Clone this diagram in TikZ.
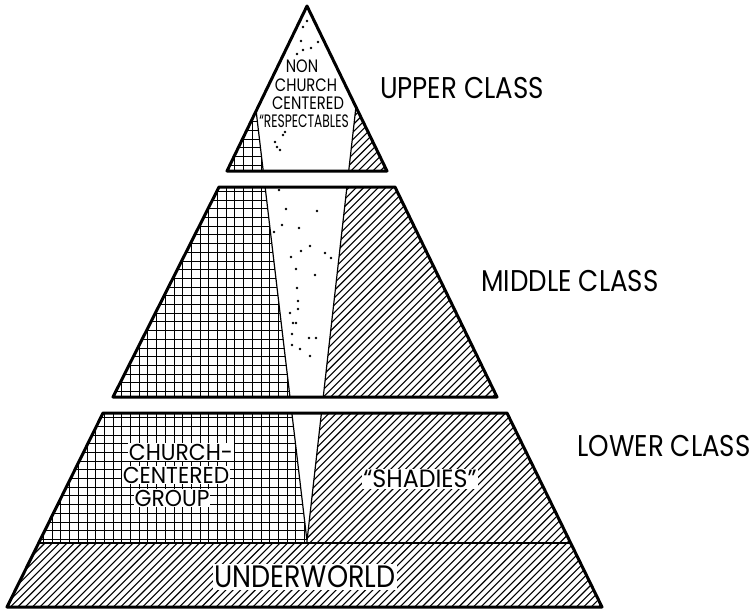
\documentclass[tikz,border=0pt]{standalone}
\usepackage{fontspec}
\newfontfamily\lbl[FakeStretch=0.87]{Poppins}
\newfontfamily\lblw[FakeStretch=0.95]{Poppins}
\newfontfamily\lblc[FakeStretch=0.82]{Poppins}
\newfontfamily\lblcc[FakeStretch=0.68]{Poppins}
\tikzset{
  every node/.style={inner sep=1pt, text=black},
  CLS/.style={font=\lbl\fontsize{30}{30}\selectfont},
  GRP/.style={font=\lblw\fontsize{23}{23}\selectfont, fill=white, inner sep=1pt},
  UND/.style={font=\lbl\fontsize{31}{31}\selectfont, fill=white, inner sep=1.5pt},
  TRI/.style={font=\lblc\fontsize{18}{18}\selectfont, inner sep=0pt},
  BRD/.style={line width=3pt, line join=round},
  THIN/.style={line width=1.2pt},
  GL/.style={line width=1pt},
  HL/.style={line width=1.1pt},
}
\newcommand{\gridlines}{%
  \foreach \g in {0,8.7,...,620} {\draw[GL] (\g,0) -- (\g,611); \draw[GL] (0,\g) -- (756,\g);}}
\newcommand{\hatchlines}{%
  \foreach \h in {0,7.35,...,1380} \draw[HL] (\h,0) -- (\h-611,611);}

\begin{document}
\begin{tikzpicture}[x=1pt, y=1pt, yscale=-1]
\useasboundingbox (0,0) rectangle (756,611);

%% pyramid corners
\coordinate (apex) at (307,6);
\coordinate (tl) at (227,171);
\coordinate (tr) at (387,171);
\coordinate (ml1) at (219,187);
\coordinate (mr1) at (395,187);
\coordinate (ml2) at (113,397);
\coordinate (mr2) at (497,397);
\coordinate (ll1) at (103,413);
\coordinate (lr1) at (507,413);
\coordinate (ul) at (38.7,543);
\coordinate (ur) at (570.7,543);
\coordinate (bl) at (7,607);
\coordinate (br) at (602,607);

%% white wedge
\coordinate (wl) at (243,0);
\coordinate (wr) at (368,0);
\coordinate (wb) at (307,541);

\begin{scope}
  \clip (apex) -- (tr) -- (tl) -- cycle
        (ml1) -- (mr1) -- (mr2) -- (ml2) -- cycle
        (ll1) -- (lr1) -- (ur) -- (ul) -- cycle;
  \begin{scope}
    \clip (0,0) -- (wl) -- (wb) -- (307,560) -- (0,560) -- cycle;
    \gridlines
  \end{scope}
  \begin{scope}
    \clip (wr) -- (756,0) -- (756,560) -- (307,560) -- (wb) -- cycle;
    \hatchlines
  \end{scope}
  \draw[THIN] (wl) -- (wb) -- (wr);
\end{scope}

\begin{scope}
  \clip (ul) -- (ur) -- (br) -- (bl) -- cycle;
  \hatchlines
\end{scope}
\draw[THIN] (ul) -- (ur);

\draw[BRD] (apex) -- (tr) -- (tl) -- cycle;
\draw[BRD] (ml1) -- (mr1) -- (mr2) -- (ml2) -- cycle;
\draw[BRD] (ll1) -- (lr1) -- (br) -- (bl) -- cycle;

%% dots
\foreach \p in {(307,21),(303,27),(301,41),(318,42),(303,50),(311,48),(297,54),
    (285,132),(283,135),(277,147),(280,150),(275,142),
    (279,190),(286,209),(317,211),(282,225),(299,228),(274,232),(310,246),
    (301,251),(325,253),(331,258),(291,257),(296,269),(315,275),(297,288),
    (298,301),(298,309),(290,313),(293,323),(296,323),(292,334),(309,338),
    (316,338),(292,345),(300,349),(310,356)}
  \fill \p circle (1.4);

%% labels
\node[TRI] (non) at (302,66) {NON};
\node[TRI] (church) at (306,85) {CHURCH};
\node[TRI] (centered) at (308,103) {CENTERED};
\node[TRI, font=\lblcc\fontsize{18}{18}\selectfont] (resp) at (304,121) {“RESPECTABLES};

\node[CLS] (upper) at (462,88) {UPPER CLASS};
\node[CLS] (middle) at (570,281) {MIDDLE CLASS};
\node[CLS] (lower) at (664,446) {LOWER CLASS};

\node[GRP] (cc1) at (181,452) {CHURCH-};
\node[GRP] (cc2) at (176,475) {CENTERED};
\node[GRP] (cc3) at (172,498) {GROUP};
\node[GRP, font=\lblw\fontsize{25}{25}\selectfont] (shadies) at (420,479) {“SHADIES”};
\node[UND] (under) at (305,577) {UNDERWORLD};

\end{tikzpicture}
\end{document}
